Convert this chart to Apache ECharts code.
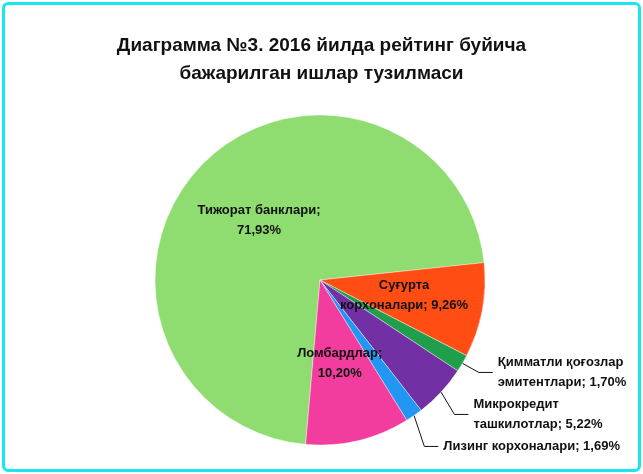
<!DOCTYPE html>
<html><head><meta charset="utf-8">
<script src="https://cdn.jsdelivr.net/npm/echarts@6/dist/echarts.min.js"></script>
<style>
html,body{margin:0;padding:0;background:#fff}
#chart{position:absolute;left:2px;top:2px;width:633px;height:464px;border:3px solid #19e6f0;border-radius:6px}
</style></head>
<body><div id="chart"></div>
<script>
// Данные диаграммы
const sectorNames = ['Тижорат банклари', 'Суғурта\nкорхоналари', 'Қимматли қоғозлар\nэмитентлари', 'Микрокредит\nташкилотлар', 'Лизинг корхоналари', 'Ломбардлар'];
const sectorShares = [71.93, 9.26, 1.70, 5.22, 1.69, 10.20];
const sectorColors = ['#8fdc70', '#ff4d14', '#1f9e4c', '#7330a4', '#2196f3', '#f23d9f'];
const insideLabels = [true, true, false, false, false, true];
const breakAfterName = [true, false, false, false, false, true];

const chart = echarts.init(document.getElementById('chart'), null, { renderer: 'canvas' });

const fmt = v => v.toFixed(2).replace('.', ',') + '%';

chart.setOption({
    animation: false,
    title: {
        text: 'Диаграмма №3. 2016 йилда рейтинг буйича\nбажарилган ишлар тузилмаси',
        left: 'center', top: 22,
        textStyle: { fontFamily: 'Liberation Sans', fontSize: 19, fontWeight: 'bold', color: '#111', lineHeight: 28 }
    },
    series: [{
        type: 'pie',
        center: [315, 275],
        radius: 165,
        startAngle: 265,
        data: sectorNames.map((n, i) => ({
            name: n,
            value: sectorShares[i],
            itemStyle: { color: sectorColors[i], borderColor: 'rgba(255,255,255,0.4)', borderWidth: 1 },
            label: insideLabels[i] ? { position: 'inside' } : { position: 'outside' },
            labelLine: { show: !insideLabels[i], length: 18, length2: 14, lineStyle: { color: '#111' } }
        })),
        label: {
            formatter: p => p.name + (breakAfterName[p.dataIndex] ? ';\n' : '; ') + fmt(p.value),
            fontFamily: 'Liberation Sans', fontSize: 13, fontWeight: 'bold', color: '#111', lineHeight: 20
        }
    }]
});
</script></body></html>
